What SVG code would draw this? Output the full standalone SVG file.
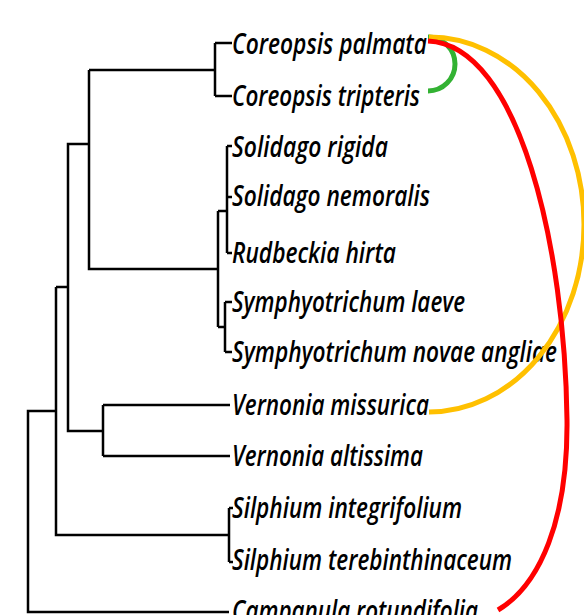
<svg xmlns="http://www.w3.org/2000/svg" width="584" height="615" viewBox="0 0 584 615">
<style>
.t{fill:none;stroke:#000;stroke-width:2.5}
.lbl{font-family:"Open Sans","Noto Sans",sans-serif;font-style:italic;font-weight:600;font-size:29px;fill:#000}
.arc{fill:none;stroke-width:5;stroke-linecap:butt}
</style>
<rect width="584" height="615" fill="#fff"/>
<g id="tree" class="t">
<path d="M229,612 H28 V411 H56"/>
<path d="M56,287 V535 H229"/>
<path d="M229,508 V562 M229,508 H233 M229,562 H233"/>
<path d="M56,287 H68"/>
<path d="M89,144 H68 V431 H103"/>
<path d="M103,405 V456 M103,405 H230 M103,456 H230"/>
<path d="M89,70 V269 H218 M89,70 H215"/>
<path d="M215,43 V96 M215,43 H232 M215,96 H232"/>
<path d="M218,211 V327 M218,211 H227 M227,146 V253 M227,146 H232 M227,197 H232 M227,253 H232"/>
<path d="M218,327 H225 M225,302 V352 M225,302 H232 M225,352 H232"/>
</g>
<g id="n1"><text class="lbl" x="232" y="54" textLength="195" lengthAdjust="spacingAndGlyphs">Coreopsis palmata</text></g>
<g id="n2"><text class="lbl" x="232" y="106" textLength="188" lengthAdjust="spacingAndGlyphs">Coreopsis tripteris</text></g>
<g id="n3"><text class="lbl" x="232" y="157" textLength="156" lengthAdjust="spacingAndGlyphs">Solidago rigida</text></g>
<g id="n4"><text class="lbl" x="232" y="206" textLength="198" lengthAdjust="spacingAndGlyphs">Solidago nemoralis</text></g>
<g id="n5"><text class="lbl" x="232" y="263" textLength="164" lengthAdjust="spacingAndGlyphs">Rudbeckia hirta</text></g>
<g id="n6"><text class="lbl" x="232" y="312" textLength="233" lengthAdjust="spacingAndGlyphs">Symphyotrichum laeve</text></g>
<g id="n7"><text class="lbl" x="232" y="362" textLength="325" lengthAdjust="spacingAndGlyphs">Symphyotrichum novae angliae</text></g>
<g id="n8"><text class="lbl" x="232" y="415" textLength="197" lengthAdjust="spacingAndGlyphs">Vernonia missurica</text></g>
<g id="n9"><text class="lbl" x="232" y="466" textLength="191" lengthAdjust="spacingAndGlyphs">Vernonia altissima</text></g>
<g id="n10"><text class="lbl" x="232" y="518" textLength="230" lengthAdjust="spacingAndGlyphs">Silphium integrifolium</text></g>
<g id="n11"><text class="lbl" x="232" y="570" textLength="280" lengthAdjust="spacingAndGlyphs">Silphium terebinthinaceum</text></g>
<g id="n12"><text class="lbl" x="232" y="621" textLength="246" lengthAdjust="spacingAndGlyphs">Campanula rotundifolia</text></g>
<g id="connectors">
<path class="arc" stroke="#33B233" d="M428,37 A27,27 0 0 1 428,91"/>
<path class="arc" stroke="#FFC000" d="M429,37 A155,187.5 0 0 1 429,412"/>
<path class="arc" stroke="#FF0000" d="M428,41 C520,45 565,250 567,420 C568,520 540,585 498,610"/>
</g>
</svg>
